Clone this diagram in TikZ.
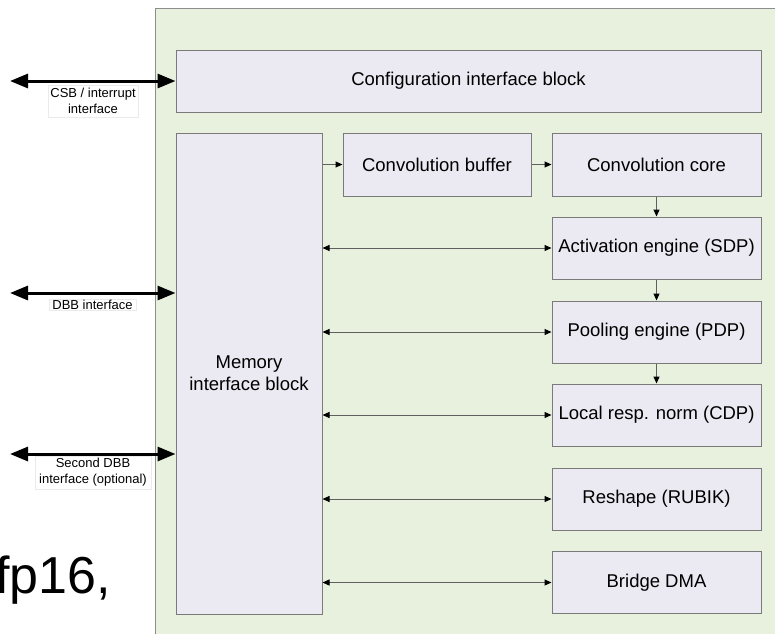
\documentclass[tikz,border=0pt]{standalone}
\usepackage{fontspec}
\setmainfont{Liberation Sans}
\usepackage{tikz}
\usetikzlibrary{arrows.meta, positioning}

\definecolor{chipgreen}{HTML}{E8F0DE}
\definecolor{blkfill}{HTML}{EBE9F1}
\definecolor{blkline}{HTML}{7A7A7A}
\definecolor{wireline}{HTML}{606060}

\tikzset{
	blk/.style = {draw=blkline, fill=blkfill, line width=1pt, inner sep=0pt,
		minimum width=209pt, minimum height=62pt, font=\fontsize{18.5}{22}\selectfont, align=center},
	wire/.style = {draw=wireline, line width=1pt, -{Triangle[length=7pt,width=6pt,color=black]}},
	dwire/.style = {wire, {Triangle[length=7pt,width=6pt,color=black]}-{Triangle[length=7pt,width=6pt,color=black]}},
	bus/.style = {line width=3pt, {Triangle[length=18pt,width=14pt]}-{Triangle[length=18pt,width=14pt]}},
	buslabel/.style = {fill=white, draw=black!8, inner sep=1pt, align=center,
		font=\fontsize{13}{16}\selectfont}
}

\begin{document}
\begin{tikzpicture}[x=1pt,y=-1pt]
				\useasboundingbox (0,0) rectangle (775,633);
				
				% chip area
				\fill[chipgreen, draw=black!45, line width=1pt] (155,8) rectangle (800,660);
				
				\node[blk, minimum width=585pt] (cfg) at (468.5,81) {Configuration interface block};
				\node[blk, minimum width=146pt, minimum height=481pt] (mem) at (249,373.5) {Memory\\interface block};
				
				\node[blk, minimum width=188pt, minimum height=63pt] (cbuf) at (437,164.5) {Convolution buffer};
				\node[blk, minimum height=63pt] (ccore) at (656.5,164.5) {Convolution core};
				\node[blk] (sdp) at (656.5,248) {Activation engine (SDP)};
				\node[blk] (pdp) at (656.5,332) {Pooling engine (PDP)};
				\node[blk] (cdp) at (656.5,415) {Local resp. norm (CDP)};
				\node[blk] (rubik) at (656.5,499) {Reshape (RUBIK)};
				\node[blk] (bdma) at (656.5,582.5) {Bridge DMA};
				
				%%%%%%%%%%%%%%%%%%%%%%%%%%%%%%
				
				\draw[wire] (cbuf.west -| mem.east) -- (cbuf.west);
				\draw[wire] (cbuf.east) -- (ccore.west);
				\draw[wire] (ccore.south) -- (sdp.north);
				\draw[wire] (sdp.south) -- (pdp.north);
				\draw[wire] (pdp.south) -- (cdp.north);
				
				\draw[dwire] (sdp.west -| mem.east) -- (sdp.west);
				\draw[dwire] (pdp.west -| mem.east) -- (pdp.west);
				\draw[dwire] (cdp.west -| mem.east) -- (cdp.west);
				\draw[dwire] (rubik.west -| mem.east) -- (rubik.west);
				\draw[dwire] (bdma.west -| mem.east) -- (bdma.west);
				
				% outside interfaces
				\coordinate (csb) at (10,81);
				\coordinate (dbb) at (10,293);
				\coordinate (dbb2) at (10,454);
				
				\draw[bus] (csb) -- (cfg.west);
				\draw[bus] (dbb) -- (dbb -| mem.west);
				\draw[bus] (dbb2) -- (dbb2 -| mem.west);
				
				\node[buslabel, minimum width=90pt, minimum height=32pt] (csblbl) at (93,101) {CSB / interrupt\\interface};
				\node[buslabel, minimum width=87pt] (dbblbl) at (92.5,304.5) {DBB interface};
				\node[buslabel, minimum width=116pt, minimum height=33pt] (dbb2lbl) at (93,472.5) {Second DBB\\interface (optional)};
				
				\node[anchor=base east, inner sep=0pt, font=\fontsize{52}{56}\selectfont] (fp) at (111,593) {fp16,};
				
			\end{tikzpicture}
\end{document}
